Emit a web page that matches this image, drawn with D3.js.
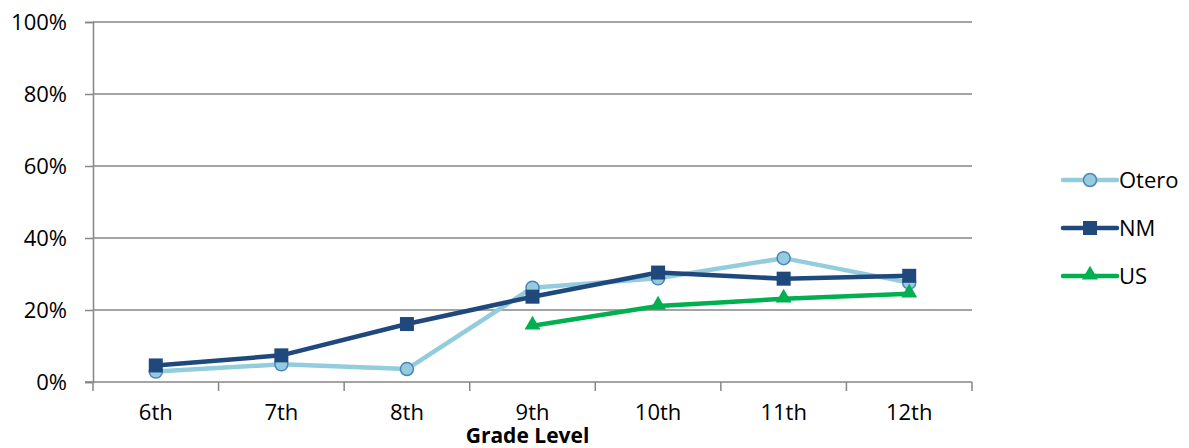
<!DOCTYPE html>
<html><head><meta charset="utf-8">
<script src="https://cdn.jsdelivr.net/npm/d3@7"></script>
<style>body{margin:0;background:#fff}svg{display:block}text{font-family:"Open Sans","Noto Sans",sans-serif}</style>
</head><body><svg id="c" width="1189" height="448"></svg>
<script>
const categories = ["6th","7th","8th","9th","10th","11th","12th"];
const otero = [2.9, 4.9, 3.6, 26.2, 28.8, 34.4, 27.6];
const nm = [4.6, 7.4, 16.1, 23.7, 30.4, 28.7, 29.5];
const us = [null, null, null, 15.6, 21.1, 23.1, 24.5];
const yTicks = [0,20,40,60,80,100];
const seriesNames = ["Otero","NM","US"];
const xTitle = "Grade Level";

const FS = "22px";
const svg = d3.select("#c");
const L=93, R=972, T=22, B=382;
const x = d3.scaleBand().domain(categories).range([L,R]);
const y = d3.scaleLinear().domain([0,100]).range([B,T]);
const grid="#868686";

svg.append("g").selectAll("line").data(yTicks.filter(d=>d>0)).join("line")
  .attr("x1",L).attr("x2",R).attr("y1",d=>y(d)).attr("y2",d=>y(d))
  .attr("stroke",grid).attr("stroke-width",1.5);

const ya = svg.append("g").attr("transform",`translate(${L},0)`)
  .call(d3.axisLeft(y).tickValues(yTicks).tickFormat(d=>d+"%").tickSize(8).tickPadding(18));
ya.select(".domain").attr("stroke",grid).attr("stroke-width",1.5);
ya.selectAll(".tick line").attr("stroke",grid).attr("stroke-width",1.5);
ya.selectAll("text").style("font-size",FS).style("font-family","'Open Sans'").attr("fill","#000").attr("dy","0.36em");

const xa = svg.append("g").attr("transform",`translate(0,${B})`)
  .call(d3.axisBottom(x).tickSize(0).tickPadding(22));
xa.select(".domain").remove();
xa.selectAll("text").style("font-size",FS).style("font-family","'Open Sans'").attr("fill","#000");
svg.append("line").attr("x1",L-8).attr("x2",R).attr("y1",B).attr("y2",B).attr("stroke",grid).attr("stroke-width",1.5);
const bounds = categories.map(c=>x(c)).concat([R]);
svg.append("g").selectAll("line").data(bounds).join("line")
  .attr("x1",d=>d).attr("x2",d=>d).attr("y1",B).attr("y2",B+9)
  .attr("stroke",grid).attr("stroke-width",1.5);

svg.append("text").attr("x",(L+R)/2 - 5).attr("y",443).attr("text-anchor","middle")
  .style("font-size","21px").attr("font-weight","bold").text(xTitle);

const cx = c=>x(c)+x.bandwidth()/2;
const line = d3.line().defined(d=>d.v!=null).x(d=>cx(d.c)).y(d=>y(d.v));
const mk = arr=>arr.map((v,i)=>({c:categories[i],v}));

const styles = [
  {data:otero, color:"#93CDDD", stroke:"#4F81BD", shape:"circle"},
  {data:nm, color:"#1F497D", stroke:"#1F497D", shape:"square"},
  {data:us, color:"#00B050", stroke:"#00B050", shape:"triangle"}
];
function marker(g, shape, fill, stroke){
  if(shape==="circle") g.append("circle").attr("r",6.5).attr("fill",fill).attr("stroke",stroke).attr("stroke-width",1.5);
  else if(shape==="square") g.append("rect").attr("x",-7).attr("y",-7).attr("width",14).attr("height",14).attr("fill",fill);
  else g.append("path").attr("d",d3.symbol(d3.symbolTriangle,110)()).attr("transform","translate(0,-1)").attr("fill",fill);
}
styles.forEach(s=>{
  svg.append("path").datum(mk(s.data)).attr("d",line).attr("fill","none").attr("stroke",s.color).attr("stroke-width",4.5).attr("stroke-linejoin","round");
});
styles.forEach(s=>{
  mk(s.data).filter(d=>d.v!=null).forEach(d=>{
    const g = svg.append("g").attr("transform",`translate(${cx(d.c)},${y(d.v)})`);
    marker(g, s.shape, s.color, s.stroke);
  });
});

const ly = [180,228,276];
styles.forEach((s,i)=>{
  const g = svg.append("g").attr("transform",`translate(0,${ly[i]})`);
  g.append("line").attr("x1",1063).attr("x2",1117).attr("stroke",s.color).attr("stroke-width",4.5).attr("stroke-linecap","round");
  const m = g.append("g").attr("transform","translate(1090,0)");
  marker(m, s.shape, s.color, s.stroke);
  g.append("text").attr("x",1119).attr("y",0).attr("dy","0.36em").style("font-size",FS).text(seriesNames[i]);
});
</script></body></html>
